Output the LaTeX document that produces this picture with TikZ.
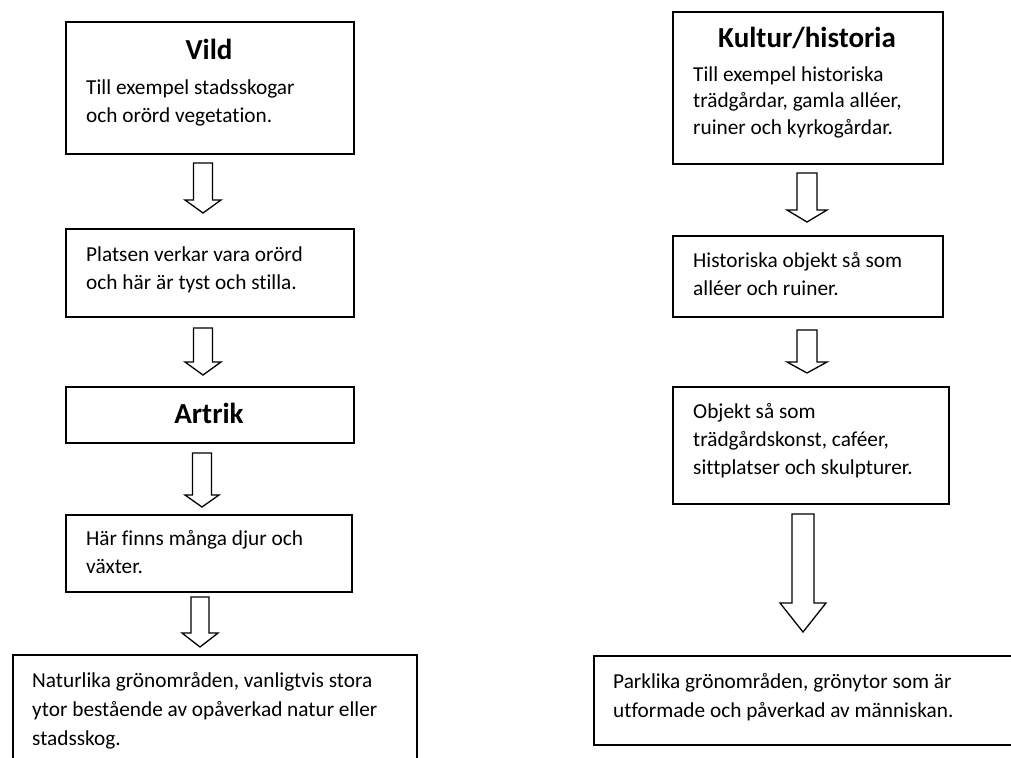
\documentclass[tikz,border=0pt]{standalone}
\usepackage{fontspec}
\setmainfont[Ligatures=NoCommon]{Carlito}
\usetikzlibrary{calc}
\tikzset{
  box/.style={draw, line width=1.6pt, inner sep=0pt, anchor=north west},
  body/.style={anchor=base west, inner sep=0pt, font=\fontsize{21.3}{28}\selectfont},
  title/.style={anchor=base, inner sep=0pt, font=\fontsize{29}{33}\selectfont\bfseries},
  arr/.style={draw, line width=1.3pt, line join=miter, fill=white}
}
\newcommand\blockarrow[7]{% name, cx, top, headstart, tip, halfshaft, halfhead
  \coordinate (#1) at (#2,#3);
  \draw[arr] ($(#1)+(-#6,0)$) -- ($(#1)+(#6,0)$) -- ($(#1)+(#6,#4-#3)$) -- ($(#1)+(#7,#4-#3)$)
    -- ($(#1)+(0,#5-#3)$) -- ($(#1)+(-#7,#4-#3)$) -- ($(#1)+(-#6,#4-#3)$) -- cycle;}
\begin{document}
\begin{tikzpicture}[x=1pt,y=-1pt]
\useasboundingbox (0,0) rectangle (1011,757);
\clip (0,0) rectangle (1011,757);
\fill[white] (0,0) rectangle (1011,757);

% left column boxes
\node[box, minimum width=288pt, minimum height=132pt] (vild) at (65,21) {};
\node[box, minimum width=288pt, minimum height=88pt] (platsen) at (65,228) {};
\node[box, minimum width=288pt, minimum height=56pt] (artrik) at (65,386) {};
\node[box, minimum width=286pt, minimum height=77pt] (har) at (65,514) {};
\node[box, minimum width=404pt, minimum height=200pt] (natur) at (12,654) {};

% right column boxes
\node[box, minimum width=270pt, minimum height=152pt] (kultur) at (672,11) {};
\node[box, minimum width=270pt, minimum height=81pt] (hist) at (672,235) {};
\node[box, minimum width=276pt, minimum height=117pt] (objekt) at (672,386) {};
\node[box, minimum width=500pt, minimum height=89pt] (park) at (593,655) {};

% texts left
\node[title] (t1) at (209,60) {Vild};
\node[body] (t1a) at (86,95) {Till exempel stadsskogar};
\node[body] (t1b) at (86,123) {och orörd vegetation.};
\node[body] (t2a) at (86,261) {Platsen verkar vara orörd};
\node[body] (t2b) at (86,289) {och här är tyst och stilla.};
\node[title] (t3) at (209,423) {Artrik};
\node[body] (t4a) at (86,545) {Här finns många djur och};
\node[body] (t4b) at (86,573) {växter.};
\node[body] (t5a) at (32,687) {Naturlika grönområden, vanligtvis stora};
\node[body] (t5b) at (32,716) {ytor bestående av opåverkad natur eller};
\node[body] (t5c) at (32,745) {stadsskog.};

% texts right
\node[title] (r1) at (807,48) {Kultur/historia};
\node[body] (r1a) at (693,82) {Till exempel historiska};
\node[body] (r1b) at (693,108) {trädgårdar, gamla alléer,};
\node[body] (r1c) at (693,134) {ruiner och kyrkogårdar.};
\node[body] (r2a) at (693,267) {Historiska objekt så som};
\node[body] (r2b) at (693,295) {alléer och ruiner.};
\node[body] (r3a) at (693,418) {Objekt så som};
\node[body] (r3b) at (693,446) {trädgårdskonst, caféer,};
\node[body] (r3c) at (693,474) {sittplatser och skulpturer.};
\node[body] (r4a) at (613,688) {Parklika grönområden, grönytor som är};
\node[body] (r4b) at (613,717) {utformade och påverkad av människan.};

% block arrows
\blockarrow{a1}{203}{163}{200}{213}{9.5}{18}
\blockarrow{a2}{203}{328}{362}{375}{9.5}{18}
\blockarrow{a3}{202}{453}{495}{507}{9.5}{17}
\blockarrow{a4}{200}{597}{633}{647}{9}{18}
\blockarrow{b1}{807}{173}{210}{222}{10}{20}
\blockarrow{b2}{807}{330}{362}{373}{10}{20}
\blockarrow{b3}{803}{514}{603}{632}{11}{23}
\end{tikzpicture}
\end{document}
